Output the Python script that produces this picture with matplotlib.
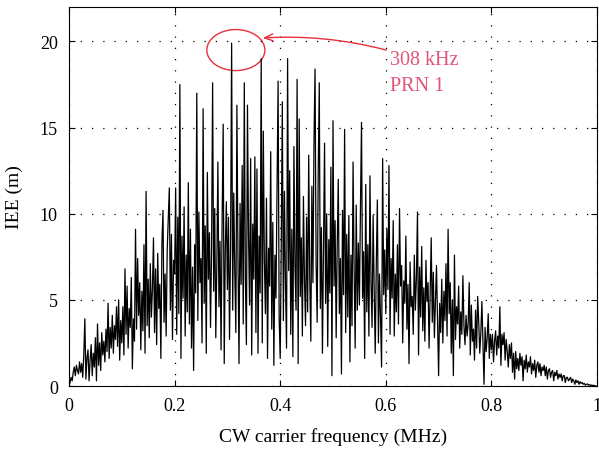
import numpy as np
import matplotlib
matplotlib.use("Agg")
import matplotlib.pyplot as plt
from matplotlib.patches import Ellipse

plt.rcParams['font.family'] = ['Liberation Serif', 'DejaVu Serif']

# IEE (m), 0.002 MHz apart, in 0.05 MHz blocks
iee_000 = [0.0, 0.2, 0.5, 0.3, 0.8, 1.1, 0.6, 1.2, 0.9, 0.7, 1.4, 0.8, 1.3, 0.5, 1.8, 3.9, 0.4, 1.6, 2.1, 0.3, 1.5, 2.4, 0.6, 1.9, 1.1]
iee_050 = [2.8, 0.3, 3.6, 1.2, 2.5, 0.9, 3.1, 1.8, 2.6, 1.4, 3.3, 2.0, 4.8, 1.6, 3.4, 2.2, 4.1, 1.9, 3.5, 2.7, 4.6, 2.3, 5.0, 1.5, 3.8]
iee_100 = [2.5, 4.6, 1.8, 6.8, 3.0, 5.8, 2.2, 4.5, 3.4, 6.3, 1.0, 3.9, 2.6, 9.1, 3.3, 7.4, 4.1, 6.0, 2.1, 5.5, 3.2, 8.2, 1.9, 11.3, 3.5]
iee_150 = [6.2, 2.8, 7.1, 4.0, 5.6, 8.6, 3.1, 6.8, 2.4, 7.7, 4.5, 5.9, 1.6, 8.3, 10.2, 3.7, 6.5, 2.9, 7.9, 9.7, 11.5, 4.4, 8.8, 2.7, 7.3]
iee_200 = [6.5, 11.5, 3.0, 9.8, 4.2, 17.5, 1.6, 8.7, 5.1, 10.4, 2.9, 7.6, 4.3, 11.8, 3.6, 9.1, 2.2, 6.9, 0.9, 8.2, 5.4, 17.0, 3.8, 10.1, 6.0]
iee_250 = [7.4, 2.5, 16.1, 4.8, 9.3, 1.9, 12.4, 6.2, 8.9, 3.4, 7.8, 17.6, 5.5, 10.3, 2.8, 7.1, 13.0, 4.6, 8.4, 2.1, 9.6, 15.2, 1.3, 7.9, 10.7]
iee_300 = [5.6, 9.8, 2.7, 8.1, 19.9, 4.4, 11.2, 6.6, 3.1, 16.3, 7.5, 1.3, 10.6, 5.9, 12.8, 3.6, 17.6, 6.3, 2.4, 16.3, 8.8, 4.7, 13.2, 1.8, 9.4]
iee_350 = [6.2, 13.3, 3.1, 12.6, 1.9, 8.7, 5.4, 19.0, 2.5, 14.8, 7.3, 4.2, 10.9, 1.6, 8.0, 5.8, 13.6, 3.3, 9.5, 1.2, 7.6, 5.1, 11.2, 17.7, 4.0]
iee_400 = [1.6, 8.2, 16.5, 3.8, 11.3, 5.9, 2.2, 19.0, 6.7, 12.5, 3.0, 9.1, 1.7, 13.9, 7.0, 4.4, 17.8, 1.3, 15.5, 5.2, 8.6, 2.9, 11.0, 6.1, 3.5]
iee_450 = [9.8, 4.3, 13.4, 6.2, 2.6, 11.6, 6.0, 14.2, 18.4, 7.1, 3.7, 12.3, 17.6, 4.5, 9.2, 1.9, 7.7, 14.1, 4.8, 10.0, 2.3, 8.5, 5.4, 12.7, 0.6]
iee_500 = [15.4, 5.8, 9.6, 2.8, 8.1, 12.0, 4.2, 7.4, 0.7, 10.2, 5.3, 14.9, 3.1, 8.8, 4.0, 9.9, 1.4, 7.6, 3.5, 13.0, 6.9, 2.2, 10.5, 4.4, 8.3]
iee_550 = [4.7, 10.4, 15.3, 5.1, 7.8, 1.6, 11.7, 4.3, 8.2, 2.9, 12.2, 6.0, 3.4, 9.9, 5.6, 1.9, 7.1, 10.8, 2.5, 6.5, 4.0, 1.1, 13.2, 5.3, 7.9]
iee_600 = [4.2, 9.1, 5.6, 12.8, 3.0, 7.4, 5.1, 9.6, 2.9, 6.5, 4.3, 8.2, 3.6, 10.3, 5.8, 7.0, 2.5, 6.1, 4.8, 8.7, 3.3, 5.9, 1.3, 7.2, 4.6]
iee_650 = [5.2, 3.0, 7.6, 4.4, 6.3, 10.1, 1.8, 6.9, 4.0, 8.1, 3.2, 5.7, 2.6, 7.3, 4.9, 6.0, 2.2, 5.4, 8.6, 3.7, 6.6, 2.8, 5.0, 7.0, 3.9]
iee_700 = [0.6, 4.8, 3.1, 6.2, 2.5, 5.5, 3.8, 7.1, 2.9, 9.1, 4.2, 6.0, 1.9, 5.0, 0.6, 7.6, 2.7, 4.6, 3.6, 5.8, 2.2, 4.3, 3.0, 6.4, 3.5]
iee_750 = [2.4, 4.1, 2.9, 3.6, 6.0, 1.8, 4.7, 2.6, 3.3, 1.5, 4.4, 2.2, 5.2, 3.7, 1.9, 3.1, 4.9, 2.5, 0.1, 3.4, 2.0, 2.8, 4.2, 1.6, 3.0]
iee_800 = [2.1, 3.0, 1.4, 2.6, 3.2, 1.8, 2.9, 2.2, 4.6, 1.2, 3.0, 2.4, 3.1, 1.5, 2.7, 2.0, 1.1, 2.4, 1.6, 2.5, 0.8, 1.9, 0.4, 2.0, 1.0]
iee_850 = [1.6, 0.9, 1.9, 1.2, 1.7, 0.3, 1.5, 1.0, 1.8, 0.8, 1.4, 1.1, 1.7, 0.7, 1.3, 0.9, 1.5, 0.5, 1.2, 1.4, 0.8, 1.3, 0.6, 1.1, 0.9]
iee_900 = [1.2, 0.6, 1.1, 0.4, 0.9, 1.0, 0.5, 0.8, 0.9, 0.3, 0.8, 0.6, 0.9, 0.4, 0.7, 0.5, 0.7, 0.3, 0.6, 0.6, 0.2, 0.5, 0.5, 0.3, 0.4]
iee_950 = [0.5, 0.2, 0.4, 0.3, 0.1, 0.35, 0.2, 0.3, 0.1, 0.25, 0.15, 0.2, 0.1, 0.15, 0.05, 0.1, 0.12, 0.05, 0.08, 0.03, 0.06, 0.02, 0.04, 0.01, 0.0]

x_ticks = [0, 0.2, 0.4, 0.6, 0.8, 1.0]
x_ticklabels = ["0", "0.2", "0.4", "0.6", "0.8", "1"]
y_ticks = [0, 5, 10, 15, 20]
y_ticklabels = ["0", "5", "10", "15", "20"]
annot_text = "308 kHz\nPRN 1"

iee = np.array(iee_000 + iee_050 + iee_100 + iee_150 + iee_200 + iee_250 + iee_300 +
               iee_350 + iee_400 + iee_450 + iee_500 + iee_550 + iee_600 + iee_650 +
               iee_700 + iee_750 + iee_800 + iee_850 + iee_900 + iee_950)
freq = np.arange(len(iee)) * 0.002

fig = plt.figure(figsize=(5.99, 4.52), dpi=100)
ax = fig.add_axes([69/599, 1 - 387/452, (597-69)/599, (387-8)/452])

ax.plot(freq, iee, color='k', lw=0.9)

ax.set_xlim(0, 1)
ax.set_ylim(0, 22)
ax.set_xticks(x_ticks)
ax.set_xticklabels(x_ticklabels)
ax.set_yticks(y_ticks)
ax.set_yticklabels(y_ticklabels)
ax.tick_params(direction='in', top=True, right=True, length=4, width=0.8,
               labelsize=13, pad=8)
ax.grid(True, color='k', lw=0.9, linestyle=(0, (1, 8)))
for s in ax.spines.values():
    s.set_linewidth(0.8)

ax.set_xlabel("CW carrier frequency (MHz)", fontsize=14, labelpad=9)
ax.set_ylabel("IEE (m)", fontsize=14, labelpad=12)

red = '#e8303a'
ax.add_patch(Ellipse((0.316, 19.5), 0.11, 2.38, fill=False, ec=red, lw=1.0))
ax.annotate('', xy=(0.367, 20.2), xytext=(0.601, 19.5),
            arrowprops=dict(arrowstyle='->,head_length=0.6,head_width=0.25',
                            color=red, lw=1.0, shrinkA=0, shrinkB=0,
                            connectionstyle='arc3,rad=0.08'))
ax.text(0.608, 18.2, annot_text, color='#e0557a', fontsize=14.5,
        va='center', ha='left', linespacing=1.55)

fig.savefig("out.png", dpi=100)
